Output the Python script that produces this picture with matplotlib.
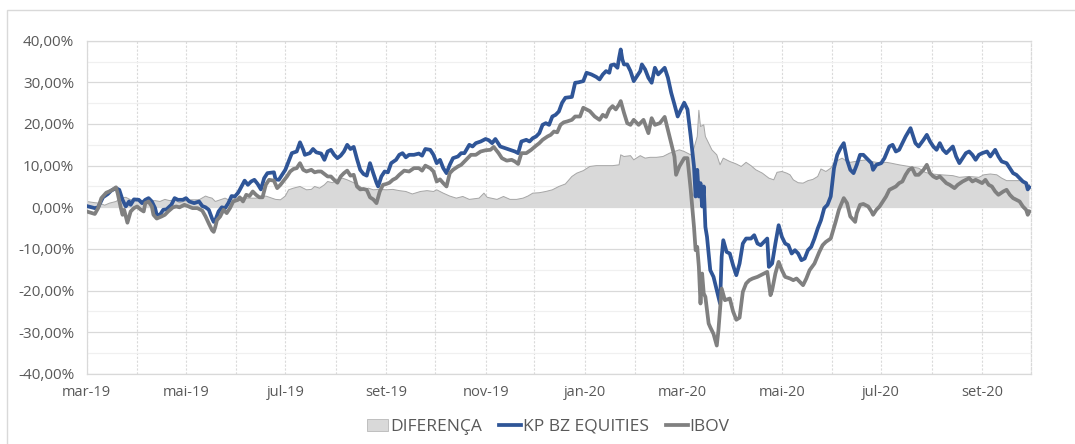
import matplotlib
matplotlib.use('Agg')
import matplotlib.pyplot as plt
import pandas as pd
from matplotlib.patches import Patch, Rectangle
from matplotlib.lines import Line2D
from matplotlib.ticker import FuncFormatter, MultipleLocator

plt.rcParams['font.family'] = ['Open Sans', 'DejaVu Sans']

# ---------------- data ----------------
BASE_DATE = '2019-03-01'   # day 0

kp_day = [0, 5, 7, 10, 13, 15, 18, 20, 22, 24, 26, 27, 29, 32, 34, 36, 38, 40, 42, 43, 45, 47, 49, 52, 54, 56, 59,
          61, 63, 66, 69, 71, 73, 75, 77, 78, 79, 81, 83, 85, 87, 89, 91, 93,
          94, 97, 99, 101, 103, 105, 107, 109, 111, 115, 116, 118, 120, 122, 124, 126, 129, 131, 133, 134, 137, 139,
          141, 144, 146, 148, 150, 152, 154, 156, 158, 160, 162, 164, 166, 168, 170, 172, 174, 176, 178, 179, 181,
          183, 185, 187, 190,
          192, 194, 196, 198, 201, 204, 206, 208, 211, 213, 215, 217, 219, 221, 223, 225, 228, 230, 232, 235, 237,
          239, 242, 245, 247, 249, 251, 254, 257, 260, 263, 265, 267, 270, 272, 274, 276, 278, 280, 282, 284, 286, 288,
          290, 292, 294, 298, 300, 302, 305, 307, 310, 313, 315, 317, 319, 321, 322, 324, 326, 327, 328, 329, 330, 332,
          334, 336, 338, 340, 341, 343, 345, 347, 349, 351, 353, 355, 357, 359, 361, 363, 365, 367, 369, 371, 373, 374,
          375, 376, 377, 378, 379, 380, 381, 383, 385, 387, 389, 390, 391, 393, 395, 397, 399, 401, 403, 405, 408, 410,
          412, 414, 416, 418, 419, 421, 423, 425, 427, 429, 431, 433, 435, 437, 439, 441, 443, 445, 447, 449, 451, 453,
          455, 457, 459, 461, 463, 465, 467, 469, 471, 473, 475,
          477, 480, 482, 483, 485, 488, 490, 493, 495, 497, 499, 501, 503, 506, 507, 509, 511, 514, 516, 518, 520, 522,
          524, 526, 528, 530, 532, 534, 536, 538, 540, 542, 544, 546, 548, 550, 553, 555, 558, 560, 562, 565, 567,
          569, 571, 573, 575, 577, 578, 579]
kp_pct = [0.3, -0.2, 0.0, 2.4, 3.2, 4.0, 4.6, 4.2, 1.8, 0.2, 1.4, 0.6, 1.9, 1.8, 1.0, 1.8, 2.2, 1.4, -0.2, -1.8, -1.8,
          -0.6, -0.5, 0.6, 2.2, 1.8, 1.8,
          2.2, 1.4, 1.0, 1.4, 0.3, 0.0, -0.6, -2.7, -3.5, -3.1, -1.0, 0.0, -0.2, 1.0, 2.7, 2.6, 3.5,
          4.2, 6.4, 5.4, 6.2, 6.6, 5.6, 4.3, 7.0, 8.2, 8.4, 6.7, 6.6, 7.8, 9.0, 11.0, 13.0, 13.4, 15.6, 13.8, 12.6,
          13.0, 14.0,
          13.2, 12.9, 11.4, 13.4, 13.8, 12.6, 11.8, 12.4, 13.4, 15.0, 14.0, 14.5, 11.6, 9.0, 8.0, 7.6, 10.6, 8.2, 5.9,
          5.0, 7.4,
          8.6, 8.4, 10.6, 11.4,
          12.6, 13.0, 12.0, 12.6, 12.6, 12.9, 12.4, 14.0, 13.8, 12.6, 10.6, 11.4, 9.4, 8.2, 10.2, 11.8, 12.2, 13.0,
          13.0, 15.0, 14.6,
          15.4, 15.8, 16.4, 16.1, 15.4, 16.4, 14.6, 14.2, 13.8, 13.4, 13.0, 15.8, 16.2, 15.8, 16.6, 17.0, 17.8, 19.8,
          20.2, 19.8, 21.8, 22.2,
          23.0, 25.1, 26.3, 26.5, 29.9, 30.0, 30.3, 32.3, 31.9, 31.3, 30.7, 31.9, 32.7, 32.3, 34.1, 34.3, 33.5, 35.9,
          37.9, 35.5, 34.3, 34.3,
          32.7, 30.3, 31.5, 32.7, 34.3, 33.1, 31.1, 29.9, 33.5, 31.9, 32.7, 33.5, 31.1, 27.5, 24.7, 21.8, 23.5, 25.1,
          23.5, 17.0, 9.8, 2.6,
          9.0, 2.6, 5.8, 0.2, 5.0, -4.7, -7.1, -15.1, -16.7, -19.9, -23.1, -11.9, -7.9, -10.7, -11.1, -13.9, -16.3,
          -13.5, -8.7, -7.5, -7.5, -6.7,
          -8.7, -9.1, -8.3, -7.5, -14.3, -13.5, -8.7, -4.3, -7.1, -8.7, -9.1, -11.1, -10.3, -11.1, -12.7, -12.3, -10.3,
          -9.5, -7.5, -5.1, -3.1, -0.2,
          0.6, 2.6, 9.4, 12.6, 14.2, 15.4, 11.4, 9.0, 8.2, 10.2, 12.6,
          12.6, 11.4, 10.6, 9.0, 10.2, 10.6, 11.8, 14.6, 15.0, 13.4, 13.8, 15.4, 17.0, 19.0, 17.8, 15.4, 14.6, 16.2,
          17.4, 15.8, 14.6, 13.8,
          15.4, 13.8, 13.0, 13.8, 14.6, 12.2, 10.6, 11.8, 13.0, 13.4, 12.6, 11.4, 12.6, 13.0, 13.4, 12.2, 13.8, 12.2,
          11.0, 10.6, 9.4,
          8.2, 7.8, 7.0, 6.2, 5.8, 4.3, 4.8]

ibov_day = [0, 5, 7, 9, 12, 15, 18, 19, 21, 22, 23, 25, 27, 29, 31, 33, 35, 36, 38, 40, 41, 43, 46, 48, 50, 53, 55,
            57, 60, 62, 65, 68, 71, 73, 75, 77, 78, 79, 80, 82, 84, 86, 88, 90, 93,
            94, 96, 98, 100, 102, 104, 106, 108, 110, 112, 115, 117, 119, 121, 123, 125, 127, 129, 131, 133, 135, 138,
            140, 142, 144, 146, 148, 150, 152, 154, 156, 158, 160, 162, 164, 166, 168, 170, 172, 174, 176, 178, 180,
            182, 184, 186, 188, 190,
            192, 195, 198, 201, 204, 206, 208, 211, 213, 215, 217, 219, 221, 223, 225, 228, 230, 233, 236, 239, 242,
            245, 248, 250, 253, 255, 258, 261, 263, 265, 267, 270, 273, 276, 278, 280, 283, 285, 287, 289, 291, 293,
            295, 298, 300, 303, 305, 309, 312, 315, 317, 319, 321, 323, 325, 327, 328, 330, 332, 334, 336, 339, 342,
            345, 347, 349, 352, 355, 357, 359, 361, 362, 364, 367, 369, 371, 373, 374, 375, 376, 377, 378, 379, 380,
            382, 383, 385, 387, 388, 390, 392, 395, 397, 399, 401, 403, 405, 407, 409, 412, 414, 416, 418, 420, 421,
            423, 425, 427, 429, 432, 434, 436, 440, 442, 444, 447, 450, 452, 454, 457, 460, 462, 465, 467, 469, 472,
            473, 475, 477, 480, 482, 483, 485, 487, 489, 491, 493, 495, 497, 499, 501, 503, 505, 507, 509, 511, 514,
            516, 518, 520, 522, 524, 526, 528, 530, 533, 535, 538, 540, 542, 544, 546, 548, 550, 552, 554, 556, 558,
            560, 563, 565, 567, 569, 571, 573, 575, 577, 578, 579]
ibov_pct = [-1.0, -1.6, -0.2, 2.2, 3.5, 4.0, 4.8, 3.4, -0.2, -1.8, -0.6, -3.7, -1.0, -0.2, 0.2, -0.5, -1.0, 1.0, 1.4,
            0.2, -1.8, -2.7, -2.2, -1.8, -1.0, 0.0, 0.2,
            0.0, 0.6, 0.3, -0.2, -0.2, -0.8, -2.2, -3.9, -5.5, -5.9, -4.7, -3.1, -2.2, -0.6, -1.4, -0.2, 1.4, 1.8,
            2.4, 1.4, 3.0, 2.7, 3.8, 3.0, 2.4, 2.4, 5.4, 6.6, 6.4, 4.6, 5.4, 6.4, 7.4, 8.6, 9.2, 9.4, 10.6, 9.0, 8.6,
            9.0,
            8.4, 8.6, 8.6, 8.0, 7.4, 7.4, 6.6, 5.9, 7.4, 8.2, 8.8, 7.6, 7.8, 5.0, 4.3, 4.4, 4.2, 2.4, 1.9, 1.0, 3.8,
            5.4, 5.6, 5.9, 6.6, 7.0,
            7.8, 8.8, 8.6, 9.4, 9.4, 8.8, 10.0, 9.4, 8.6, 6.2, 6.7, 5.8, 5.0, 8.2, 9.0, 9.8, 10.2, 11.4, 12.6, 12.6,
            13.4,
            13.7, 13.8, 14.5, 13.0, 11.8, 11.2, 11.4, 11.0, 10.4, 13.0, 13.0, 13.8, 14.8, 15.4, 16.2, 17.0, 17.4, 18.2,
            18.0, 19.8, 20.4,
            20.6, 21.0, 21.8, 21.8, 23.9, 23.1, 21.8, 21.0, 22.2, 21.7, 23.5, 24.3, 23.5, 24.7, 25.5, 22.7, 20.2, 19.8,
            21.0, 19.8, 21.0,
            17.8, 21.4, 19.8, 20.2, 21.7, 18.6, 15.4, 12.2, 7.8, 9.8, 11.8, 11.8, 4.2, -4.7, -10.3, -9.5, -14.3, -23.1,
            -15.9, -20.7, -21.5,
            -27.9, -28.8, -30.4, -33.2, -29.6, -19.5, -22.3, -21.9, -25.0, -27.0, -26.5, -20.3, -18.3, -17.5, -17.1,
            -16.7, -16.3, -15.9, -15.5, -21.1, -19.9,
            -15.9, -13.1, -15.1, -16.7, -17.1, -17.5, -17.1, -18.7, -17.1, -15.1, -13.5, -10.7, -9.1, -8.3, -7.5, -3.5,
            -0.6, 2.2, 1.0, -2.2, -3.5,
            -1.4, 0.6, 0.8, 0.2, -1.0, -1.8, -0.6, 0.2, 1.4, 2.6, 4.2, 4.6, 5.0, 5.8, 6.2, 7.8, 9.0, 9.4, 7.8, 7.8, 9.0,
            10.2, 8.2, 7.4, 7.0, 7.4, 6.6, 5.8, 5.4, 4.6, 5.4, 6.2, 6.6, 7.0, 6.2, 6.6, 6.2, 5.8, 6.6, 5.4, 5.0, 3.8,
            3.0, 3.8, 4.2, 3.0, 2.2, 1.8, 1.4, 0.2, -0.6, -1.8, -1.0]

dif_day = [0, 5, 8, 11, 14, 18, 21, 24, 27, 32, 37, 42, 45, 48, 51, 54, 57, 63, 69, 73, 75, 77, 79, 82, 85, 87, 90,
           94, 98, 104, 110, 116, 119, 122, 124, 127, 131, 135, 138, 140, 143, 146, 148, 151, 154, 157, 160, 164, 166,
           168, 170, 173, 176, 180, 184, 188, 192, 196, 200, 205, 209, 213, 215, 219, 223, 227, 231, 235, 241, 244,
           246, 252, 256, 260, 264, 268, 271, 274, 278, 282, 286, 290, 294, 298, 301, 305, 309, 313, 319, 323, 327,
           328, 330, 334, 336, 340, 343, 346, 350, 354, 358, 361, 364, 367, 369, 371, 373, 375, 376, 377, 379, 380,
           382, 384, 387, 389, 391, 393, 395, 399, 402, 405, 408, 411, 415, 419, 422, 424, 427, 430, 432, 434, 437,
           440, 443, 446, 449, 451, 454, 457, 459, 461, 464, 467, 469, 472, 475, 479, 482, 485, 488, 491, 494, 499,
           505, 511, 515, 519, 525, 532, 536, 542, 548, 551, 555, 559, 562, 565, 569, 573, 577, 579]
dif_pct = [1.4, 1.1, 1.0, 0.5, 1.0, 1.4, 2.2, 2.4, 1.8, 1.8, 1.4, 1.6, 1.4, 1.9, 1.6, 1.8, 1.1, 1.8, 1.8, 2.7, 2.4,
           2.2, 1.4, 1.8, 2.2, 1.8, 2.0,
           2.4, 2.2, 2.2, 2.7, 1.9, 1.8, 2.7, 4.2, 4.6, 5.0, 4.2, 4.3, 5.0, 4.6, 5.4, 6.2, 5.9, 6.6, 7.0, 6.6, 5.9, 5.4,
           5.0, 4.2, 4.6, 4.2, 4.3, 4.2, 4.3, 4.0, 3.8, 3.2, 3.8, 4.0, 3.8, 4.2, 3.4, 2.7, 2.2, 2.6, 1.9, 2.2, 3.4,
           2.4, 1.9, 2.6, 1.9, 1.9, 2.2, 2.7, 3.4, 3.5, 3.8, 4.2, 5.0, 5.6, 7.4, 8.2, 8.8, 9.8, 10.0, 10.0, 10.0, 10.2,
           12.6, 12.2, 12.4, 11.4, 12.4, 11.8, 12.0, 12.0, 12.2, 13.0, 13.4, 13.8, 13.4, 13.0, 12.6, 14.2, 17.0, 23.3,
           19.4, 19.8, 17.0,
           15.4, 13.8, 12.6, 10.2, 11.8, 11.4, 11.0, 10.4, 9.8, 10.8, 10.0, 9.0, 8.2, 7.0, 6.6, 8.4, 8.6, 8.2, 7.8, 6.6,
           5.9,
           5.8, 6.4, 6.7, 7.4, 9.2, 8.6, 9.4, 10.6, 11.2, 11.8, 11.0, 10.8, 11.0, 11.2, 11.4, 11.0, 10.8, 10.6, 10.8,
           10.6, 10.2,
           9.8, 9.4, 8.4, 8.0, 7.8, 7.6, 7.2, 7.4, 7.2, 7.8, 8.0, 7.8, 7.0, 6.4, 6.4, 6.4, 5.8, 5.4]

series_names = ['DIFERENÇA', 'KP BZ EQUITIES', 'IBOV']
x_tick_labels = ['mar-19', '', 'mai-19', '', 'jul-19', '', 'set-19', '', 'nov-19', '',
                 'jan-20', '', 'mar-20', '', 'mai-20', '', 'jul-20', '', 'set-20', '']
y_ticks = [-40, -30, -20, -10, 0, 10, 20, 30, 40]

# ---------------- styling ----------------
C_BLUE = '#2F5597'
C_GRAY = '#808080'
C_AREA = '#D9D9D9'
C_AREA_EDGE = '#A6A6A6'
C_GRID = '#D9D9D9'
C_TEXT = '#595959'

base = pd.Timestamp(BASE_DATE)
to_dates = lambda d: base + pd.to_timedelta(d, unit='D')
kp_x, ibov_x, dif_x = to_dates(kp_day), to_dates(ibov_day), to_dates(dif_day)
month_starts = pd.date_range(BASE_DATE, periods=len(x_tick_labels), freq='MS')

fig = plt.figure(figsize=(10.75, 4.44), dpi=100)
fig.patch.set_facecolor('white')
# chart-area border (Excel style)
fig.patches.append(Rectangle((7 / 1075, -0.2), 2.0, 0.2 + (444 - 10) / 444, transform=fig.transFigure,
                             fill=False, edgecolor='#D9D9D9', linewidth=1.0))

ax = fig.add_axes([86.7 / 1075, (444 - 373.9) / 444, (1031.0 - 86.7) / 1075, 333.2 / 444])
ax.set_axisbelow(True)

ax.fill_between(dif_x, 0, dif_pct, facecolor=C_AREA, edgecolor='none', zorder=2)
ax.plot(dif_x, dif_pct, color=C_AREA_EDGE, linewidth=0.7, zorder=2.1)
ax.plot(kp_x, kp_pct, color=C_BLUE, linewidth=2.7, solid_joinstyle='round', zorder=3)
ax.plot(ibov_x, ibov_pct, color=C_GRAY, linewidth=2.7, solid_joinstyle='round', zorder=4)

ax.set_xlim(month_starts[0], month_starts[-1])
ax.set_ylim(-40, 40)

ax.set_xticks(month_starts)
ax.set_xticklabels(x_tick_labels)
ax.set_yticks(y_ticks)
ax.yaxis.set_minor_locator(MultipleLocator(5))
ax.yaxis.set_major_formatter(FuncFormatter(lambda v, p: f'{v:.2f}%'.replace('.', ',')))

ax.grid(axis='y', which='major', color=C_GRID, linewidth=0.9)
ax.grid(axis='y', which='minor', color='#F0F0F0', linewidth=0.9)
ax.grid(axis='x', which='major', color='#DADADA', linewidth=0.8, linestyle=(0, (2, 1.5)))

for s in ax.spines.values():
    s.set_color(C_GRID)
    s.set_linewidth(0.9)
ax.spines['right'].set_linestyle((0, (2, 1.5)))

ax.tick_params(axis='both', which='both', length=0, colors=C_TEXT)
ax.tick_params(axis='x', pad=8, labelsize=10.5)
ax.tick_params(axis='y', pad=9, labelsize=11)

handles = [Patch(facecolor=C_AREA, edgecolor='#BFBFBF', linewidth=0.7),
           Line2D([], [], color=C_BLUE, linewidth=2.7),
           Line2D([], [], color=C_GRAY, linewidth=2.7)]
leg = fig.legend(handles, series_names, loc='center', bbox_to_anchor=(548 / 1075, (444 - 426.7) / 444),
                 ncol=3, frameon=False, fontsize=12.5, handlelength=1.25, handleheight=0.7,
                 handletextpad=0.1, columnspacing=1.0, borderaxespad=0)
for t in leg.get_texts():
    t.set_color(C_TEXT)

fig.savefig('out.png', dpi=100, facecolor='white')
